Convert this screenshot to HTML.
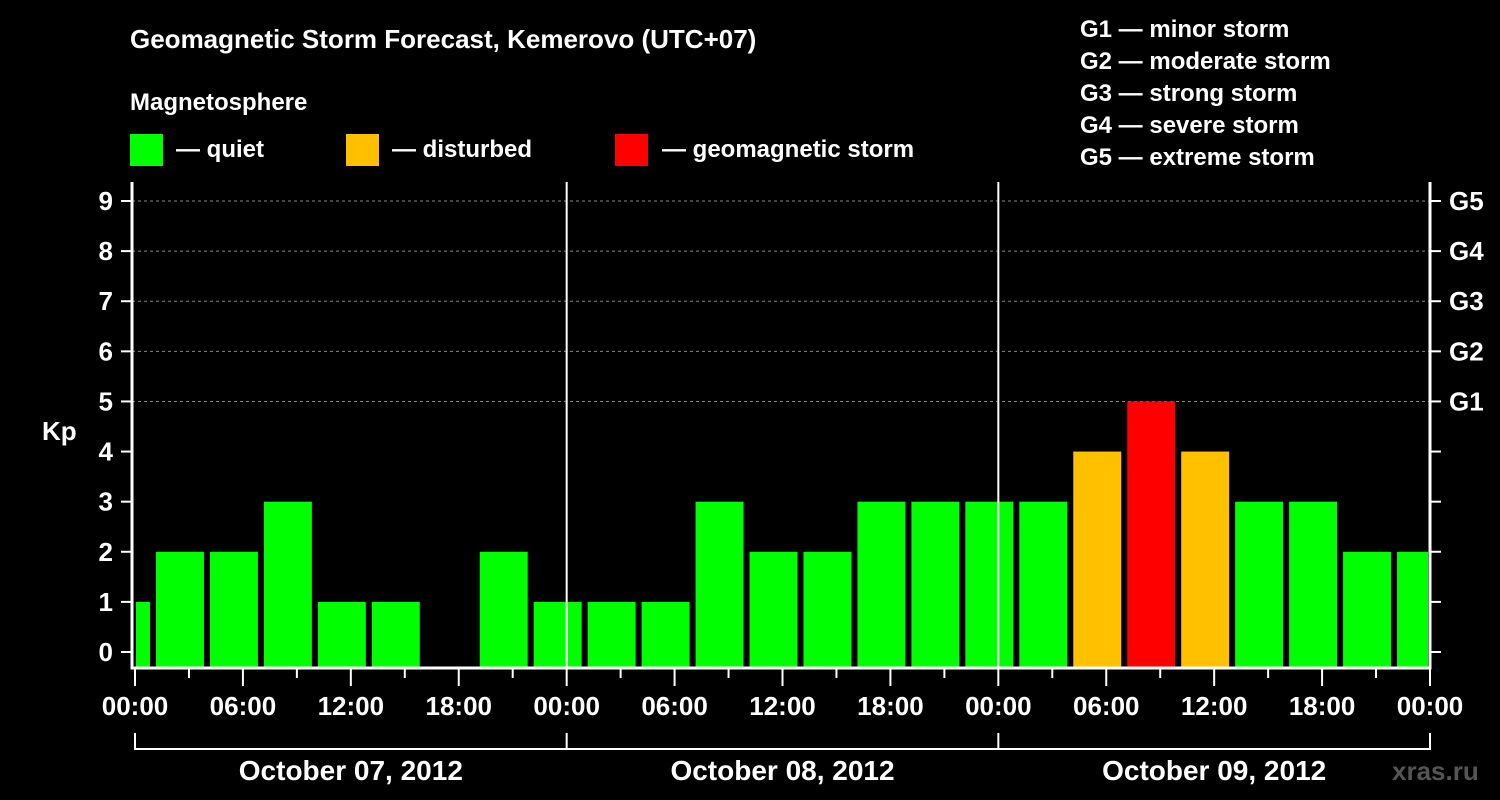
<!DOCTYPE html>
<html><head><meta charset="utf-8"><style>
body{margin:0;background:#000;}
svg{display:block;font-family:"Liberation Sans",Arial,sans-serif;font-weight:bold;}
</style></head><body>
<svg id="c" width="1500" height="800" viewBox="0 0 1500 800">
<rect width="1500" height="800" fill="#000"/>
<text x="130" y="48" fill="#fff" font-size="26">Geomagnetic Storm Forecast, Kemerovo (UTC+07)</text>
<text x="130" y="110" fill="#fff" font-size="24">Magnetosphere</text>
<g><rect x="130" y="134" width="33" height="32" fill="#00ff00"/><text x="176" y="157" fill="#fff" font-size="24">— quiet</text></g>
<g><rect x="346" y="134" width="33" height="32" fill="#ffc000"/><text x="392" y="157" fill="#fff" font-size="24">— disturbed</text></g>
<g><rect x="615" y="134" width="33" height="32" fill="#ff0000"/><text x="662" y="157" fill="#fff" font-size="24">— geomagnetic storm</text></g>
<g fill="#fff" font-size="24">
<text x="1080" y="37">G1 — minor storm</text>
<text x="1080" y="69">G2 — moderate storm</text>
<text x="1080" y="101">G3 — strong storm</text>
<text x="1080" y="133">G4 — severe storm</text>
<text x="1080" y="165">G5 — extreme storm</text>
</g>
<text x="42" y="440" fill="#fff" font-size="26">Kp</text>
<text x="1392" y="780" fill="#555" font-size="26">xras.ru</text>
<g id="plot"></g>
</svg>
<script>
const kpValues=[1,2,2,3,1,1,0,2,1,1,1,3,2,2,3,3,3,3,4,5,4,3,3,2,2];
const yTicks=[0,1,2,3,4,5,6,7,8,9];
const gLabels=["G1","G2","G3","G4","G5"];
const gLevels=[5,6,7,8,9];
const xTickLabels=["00:00","06:00","12:00","18:00","00:00","06:00","12:00","18:00","00:00","06:00","12:00","18:00","00:00"];
const dayLabels=["October 07, 2012","October 08, 2012","October 09, 2012"];
const NS="http://www.w3.org/2000/svg";
const g=document.getElementById('plot');
const X0=132,X1=1430,PB=668,PT=182;
const hx=h=>135+h*(1430-135)/72;
const ky=v=>652-v*(652-201)/9;
function el(t,a,p){const e=document.createElementNS(NS,t);for(const k in a)e.setAttribute(k,a[k]);(p||g).appendChild(e);return e;}
// grid
gLevels.forEach(v=>{const l=el('line',{x1:X0,x2:X1,y1:ky(v),y2:ky(v),stroke:'#888','stroke-dasharray':'3,3','stroke-width':1});

});
// bars
kpValues.forEach((v,i)=>{if(v<=0)return;
let a=hx(-2+3*i)+3,b=hx(1+3*i)-3;a=Math.max(a,X0+4);b=Math.min(b,X1-2);
const c=v>=5?'#ff0000':(v>=4?'#ffc000':'#00ff00');
const r=el('rect',{x:a,y:ky(v),width:b-a,height:PB-ky(v),fill:c});

});
// axes
const ax=el('path',{d:`M${X0} ${PT}V${PB}H${X1}V${PT}`,stroke:'#fff','stroke-width':3,fill:'none'});


[0,24,48].forEach(h=>{if(h===0)return;const l=el('line',{x1:hx(h),x2:hx(h),y1:PT,y2:PB,stroke:'#fff','stroke-width':2});

});
yTicks.forEach(v=>{const y=ky(v);
el('line',{x1:121,x2:X0,y1:y,y2:y,stroke:'#fff','stroke-width':2});
el('line',{x1:X1,x2:1441,y1:y,y2:y,stroke:'#fff','stroke-width':2});
const t=el('text',{x:113,y:y+9,fill:'#fff','font-size':26,'text-anchor':'end'});t.textContent=v;

});
gLevels.forEach((v,i)=>{const t=el('text',{x:1449,y:ky(v)+9,fill:'#fff','font-size':26});t.textContent=gLabels[i];

});
for(let h=0;h<=72;h+=3){el('line',{x1:hx(h),x2:hx(h),y1:PB,y2:h%6===0?686:678,stroke:'#fff','stroke-width':2});}
xTickLabels.forEach((s,i)=>{const t=el('text',{x:hx(i*6),y:715,fill:'#fff','font-size':26,'text-anchor':'middle'});t.textContent=s;

});
const br=el('path',{d:`M${hx(0)} 733V749H${hx(72)}V733M${hx(24)} 733V749M${hx(48)} 733V749`,stroke:'#fff','stroke-width':2,fill:'none'});


dayLabels.forEach((s,i)=>{const t=el('text',{x:hx(12+24*i),y:780,fill:'#fff','font-size':28,'text-anchor':'middle'});t.textContent=s;

});
</script>
</body></html>
